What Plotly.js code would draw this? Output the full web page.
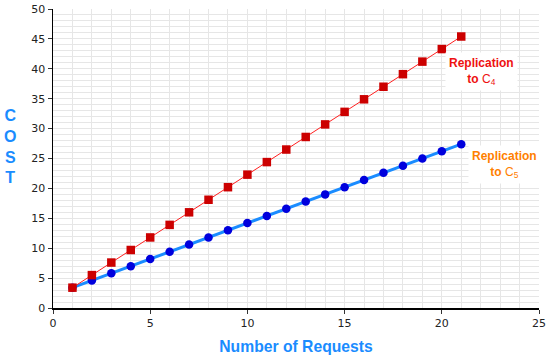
<!DOCTYPE html>
<html lang="en">
<head>
    <meta charset="UTF-8">
    <title>Cost vs Number of Requests</title>
    <script src="https://cdn.plot.ly/plotly-3.0.1.min.js"></script>
    <style>
        html, body { margin: 0; padding: 0; background: white; }
        #chart { width: 550px; height: 359px; }
    </style>
</head>
<body>
    <div id="chart"></div>
    <script>
        // values
        const requests = [1, 2, 3, 4, 5, 6, 7, 8, 9, 10, 11, 12, 13, 14, 15, 16, 17, 18, 19, 20, 21];
        const costC4 = [3.4, 5.5, 7.6, 9.7, 11.8, 13.9, 16.0, 18.1, 20.2, 22.3, 24.4, 26.5, 28.6, 30.7, 32.8, 34.9, 37.0, 39.1, 41.2, 43.3, 45.4];
        const costC5 = [3.4, 4.6, 5.8, 7.0, 8.2, 9.4, 10.6, 11.8, 13.0, 14.2, 15.4, 16.6, 17.8, 19.0, 20.2, 21.4, 22.6, 23.8, 25.0, 26.2, 27.4];
        const labelC4 = '<b>Replication</b><br><b>to</b> C<sub>4</sub>';
        const labelC5 = '<b>Replication</b><br><b>to</b> C<sub>5</sub>';

        const blueTrace = {
            x: requests, y: costC5, type: 'scatter', mode: 'lines+markers',
            line: { color: '#1a8cff', width: 3 },
            marker: { symbol: 'circle', size: 8.5, color: '#0000dd' },
            showlegend: false
        };
        const redTrace = {
            x: requests, y: costC4, type: 'scatter', mode: 'lines+markers',
            line: { color: '#ff2020', width: 1 },
            marker: { symbol: 'square', size: 8.5, color: '#cc0000' },
            showlegend: false
        };

        const axisCommon = {
            showline: true, linecolor: '#000', linewidth: 1.5, mirror: false,
            ticks: 'outside', ticklen: 4, tickcolor: '#333',
            showgrid: true, gridcolor: '#e6e6e6', gridwidth: 1,
            minor: { dtick: 1, showgrid: true, gridcolor: '#e6e6e6', gridwidth: 1 },
            zeroline: false,
            tickfont: { family: 'DejaVu Sans', size: 11, color: '#222' }
        };

        const layout = {
            width: 550, height: 359,
            margin: { l: 53, r: 11, t: 9, b: 51 },
            paper_bgcolor: 'white', plot_bgcolor: 'white',
            xaxis: Object.assign({}, axisCommon, {
                range: [0, 25], dtick: 5, tick0: 0,
                title: { text: '<b>Number of Requests</b>', font: { family: 'Liberation Sans', size: 15.7, color: '#1a8cff' }, standoff: 12 }
            }),
            yaxis: Object.assign({}, axisCommon, {
                range: [0, 50], dtick: 5, tick0: 0
            }),
            annotations: [
                {
                    text: '<b>C<br>O<br>S<br>T</b>', xref: 'paper', yref: 'paper',
                    x: -0.088, y: 0.54, xanchor: 'center', yanchor: 'middle', showarrow: false,
                    font: { family: 'Liberation Sans', size: 16, color: '#1a8cff' }
                },
                {
                    text: labelC4, xref: 'paper', yref: 'y', x: 0.882, y: 39.6,
                    xanchor: 'center', yanchor: 'middle', showarrow: false,
                    bgcolor: 'white', borderpad: 3,
                    font: { family: 'Liberation Sans', size: 12, color: '#ee1111' }
                },
                {
                    text: labelC5, xref: 'paper', yref: 'y', x: 0.93, y: 24.0,
                    xanchor: 'center', yanchor: 'middle', showarrow: false,
                    bgcolor: 'white', borderpad: 3,
                    font: { family: 'Liberation Sans', size: 12, color: '#ff8000' }
                }
            ]
        };

        Plotly.newPlot('chart', [blueTrace, redTrace], layout, { displayModeBar: false, staticPlot: true });
    </script>
</body>
</html>
